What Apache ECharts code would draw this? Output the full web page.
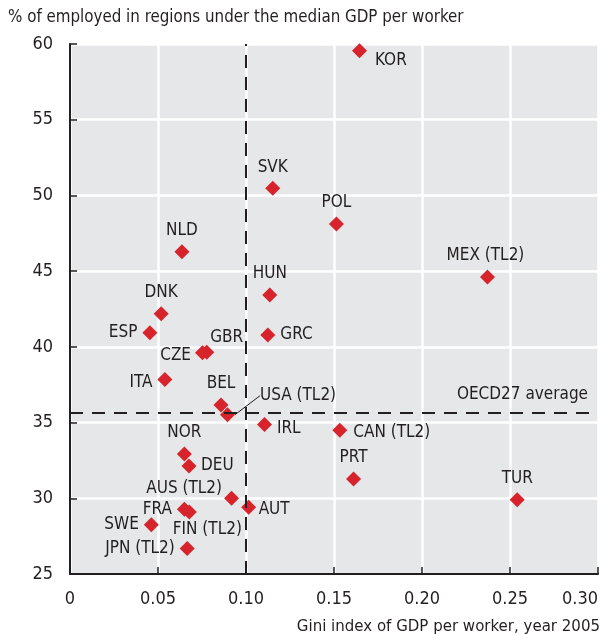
<!DOCTYPE html>
<html>
<head>
<meta charset="utf-8">
<script src="https://cdn.jsdelivr.net/npm/echarts@6/dist/echarts.min.js"></script>
<style>
html,body{margin:0;padding:0;background:#fff;}
#main{width:601px;height:635px;}
</style>
</head>
<body>
<div id="main"></div>
<script>
// ---- data ----
const countries = ['KOR','SVK','POL','MEX (TL2)','HUN','NLD','DNK','ESP','GRC','GBR','CZE','ITA','BEL','USA (TL2)','IRL','CAN (TL2)','PRT','TUR','NOR','DEU','AUS (TL2)','AUT','FRA','FIN (TL2)','SWE','JPN (TL2)'];
const giniValues = [0.1645,0.1152,0.1514,0.2372,0.1135,0.0636,0.0518,0.0454,0.1124,0.0777,0.0753,0.0539,0.0858,0.0895,0.1105,0.1533,0.1611,0.2541,0.0650,0.0676,0.0918,0.1015,0.0650,0.0678,0.0462,0.0666];
const employedShare = [59.56,50.47,48.11,44.61,43.42,46.28,42.19,40.93,40.78,39.65,39.61,37.85,36.16,35.52,34.88,34.50,31.27,29.90,32.92,32.13,30.01,29.40,29.27,29.09,28.25,26.69];
const oecdAverage = 35.67;
const giniThreshold = 0.10;
const xTicks = {min:0, max:0.30, step:0.05};
const yTicks = {min:25, max:60, step:5};
const yTitle = '% of employed in regions under the median GDP per worker';
const xTitle = 'Gini index of GDP per worker, year 2005';
const avgLabel = 'OECD27 average';

// ---- label placement (style) ----
const labelPlace = {
  'KOR': {position:'right', shift:[3,10]},
  'SVK': {position:'top'},
  'POL': {position:'top'},
  'MEX (TL2)': {position:'top', shift:[-2,0]},
  'HUN': {position:'top'},
  'NLD': {position:'top'},
  'DNK': {position:'top'},
  'ESP': {position:'left'},
  'GRC': {position:'right'},
  'GBR': {position:'top', shift:[20,6]},
  'CZE': {position:'left', distance:4, shift:[0,3]},
  'ITA': {position:'left', shift:[0,3]},
  'BEL': {position:'top'},
  'USA (TL2)': {position:'right', shift:[20,-19], line:true},
  'IRL': {position:'right', shift:[0,4]},
  'CAN (TL2)': {position:'right', distance:6, shift:[0,2]},
  'PRT': {position:'top'},
  'TUR': {position:'top'},
  'NOR': {position:'top'},
  'DEU': {position:'right', distance:4.5},
  'AUS (TL2)': {position:'left', shift:[3,-10]},
  'AUT': {position:'right', distance:2.5, shift:[0,2]},
  'FRA': {position:'left'},
  'FIN (TL2)': {position:'bottom', shift:[18,-3]},
  'SWE': {position:'left'},
  'JPN (TL2)': {position:'left'}
};

const FONT = '"Liberation Sans Narrow","DejaVu Sans Condensed",sans-serif';
const TXT = '#231f20';
const RED = '#d7232b';

const points = countries.map((c,i)=>{
  const lp = labelPlace[c];
  const lab = {position:lp.position};
  if (lp.distance !== undefined) lab.distance = lp.distance;
  const item = {name:c, value:[giniValues[i], employedShare[i]], label:lab};
  if (lp.line) item.labelLine = {show:true, lineStyle:{color:'#231f20', width:1}};
  return item;
});

const chart = echarts.init(document.getElementById('main'), null, {renderer:'canvas'});
chart.setOption({
  animation:false,
  backgroundColor:'#ffffff',
  textStyle:{fontFamily:FONT},
  grid:{left:70, top:44, width:531, height:530, show:true, backgroundColor:'#e6e7e8', borderWidth:0, containLabel:false},
  xAxis:{
    type:'value', min:xTicks.min, max:xTicks.max, interval:xTicks.step,
    axisLine:{show:true, onZero:false, lineStyle:{color:'#231f20', width:2}},
    axisTick:{show:true, inside:true, length:7, lineStyle:{color:'#231f20', width:1.5}},
    splitLine:{show:true, lineStyle:{color:'#ffffff', width:2.5}},
    axisLabel:{color:TXT, fontFamily:FONT, fontSize:18, margin:16, alignMaxLabel:'right',
      formatter:v=> v===0 ? '0' : v.toFixed(2)}
  },
  yAxis:{
    type:'value', min:yTicks.min, max:yTicks.max, interval:yTicks.step,
    axisLine:{show:true, onZero:false, lineStyle:{color:'#231f20', width:2}},
    axisTick:{show:true, inside:true, length:7, lineStyle:{color:'#231f20', width:1.5}},
    splitLine:{show:true, lineStyle:{color:'#ffffff', width:2.5}},
    axisLabel:{color:TXT, fontFamily:FONT, fontSize:18, margin:17}
  },
  graphic:[
    {type:'text', left:8, top:9, style:{text:yTitle, fill:TXT, font:'16.8px '+FONT}},
    {type:'text', right:1, top:618, style:{text:xTitle, fill:TXT, font:'16.7px '+FONT}}
  ],
  series:[{
    type:'scatter',
    symbol:'diamond',
    symbolSize:15,
    itemStyle:{color:RED, opacity:1},
    label:{show:true, formatter:'{b}', color:TXT, fontFamily:FONT, fontSize:17, distance:5},
    labelLine:{show:false},
    labelLayout:function(p){
      const s = labelPlace[countries[p.dataIndex]].shift;
      return s ? {dx:s[0], dy:s[1]} : {};
    },
    data:points,
    markLine:{
      silent:true, symbol:['none','none'],
      lineStyle:{color:'#231f20', width:2, type:[13,9]},
      data:[
        {yAxis:oecdAverage, label:{show:true, formatter:avgLabel, position:'insideEndTop', color:TXT, fontFamily:FONT, fontSize:17, distance:[10,9]}},
        {xAxis:giniThreshold, label:{show:false}}
      ]
    }
  }]
});
</script>
</body>
</html>
